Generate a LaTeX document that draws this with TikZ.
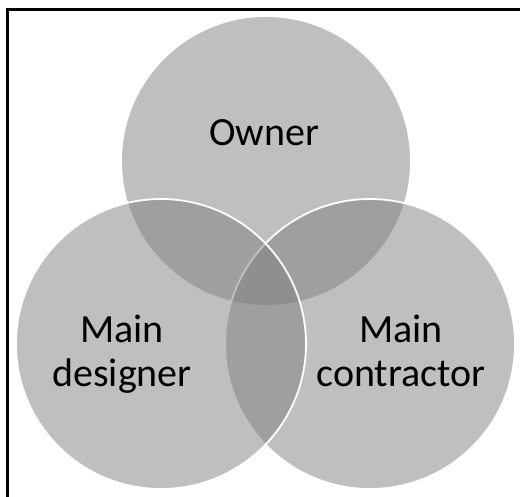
\documentclass[tikz,border=0pt]{standalone}
\usepackage{fontspec}
\setmainfont{Carlito}
\begin{document}
\begin{tikzpicture}[x=1pt,y=-1pt,
  venn/.style={circle, minimum size=290pt, inner sep=0pt, fill=black!50, fill opacity=0.5, draw=white, draw opacity=1, line width=1.8pt},
  lbl/.style={font=\fontsize{40}{44}\selectfont, align=center, text=black, anchor=base, inner sep=0pt}]
\useasboundingbox (0,0) rectangle (520,496);
\begin{scope}
\clip (0,0) rectangle (520,496);
\coordinate (fb) at (7,510);
\coordinate (fc) at (7,9);
\coordinate (fr) at (530,9);
\draw[line width=3pt, black] (fb) -- (fc) -- (fr);
\end{scope}
\node[venn] (owner) at (266,161) {};
\node[venn] (contractor) at (370,344) {};
\node[venn] (designer) at (161,344) {};
\node[lbl] (towner) at (264,145) {Owner};
\node[lbl] (tdesigner) at (122,386) {Main\\designer};
\node[lbl] (tcontractor) at (401,386) {Main\\contractor};
\end{tikzpicture}
\end{document}
